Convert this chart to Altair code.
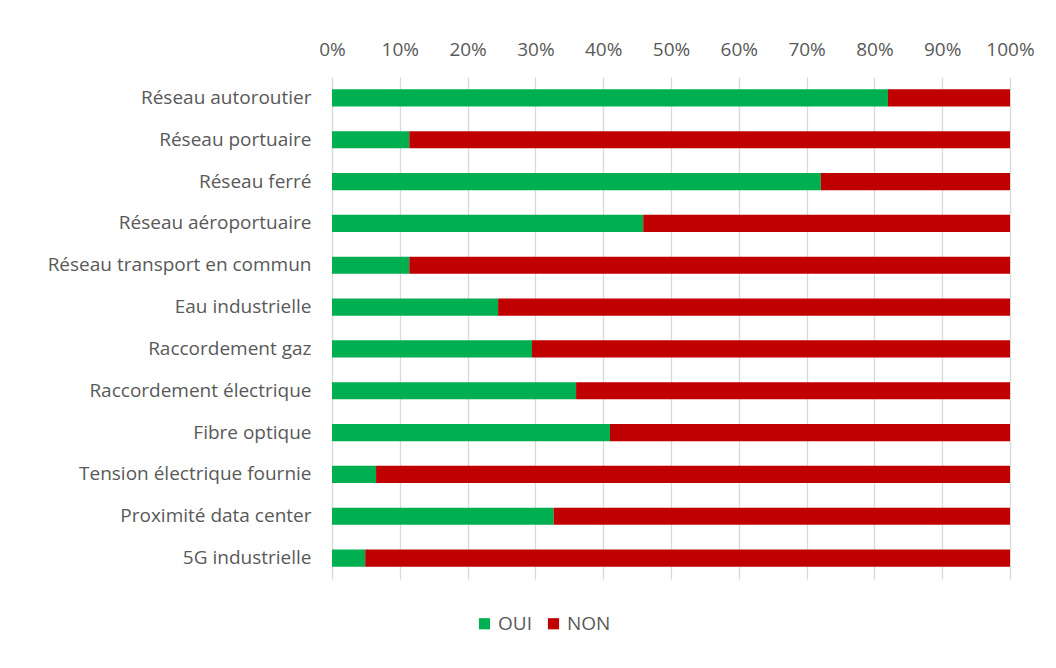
import altair as alt
import pandas as pd

categories = [
    "Réseau autoroutier", "Réseau portuaire", "Réseau ferré", "Réseau aéroportuaire",
    "Réseau transport en commun", "Eau industrielle", "Raccordement gaz",
    "Raccordement électrique", "Fibre optique", "Tension électrique fournie",
    "Proximité data center", "5G industrielle",
]
oui = [0.820, 0.114, 0.721, 0.459, 0.114, 0.245, 0.295, 0.360, 0.410, 0.065, 0.327, 0.049]
non = [0.180, 0.886, 0.279, 0.541, 0.886, 0.755, 0.705, 0.640, 0.590, 0.935, 0.673, 0.951]
series = ["OUI", "NON"]
colors = ["#00B050", "#C00000"]
x_ticks = [0, 0.1, 0.2, 0.3, 0.4, 0.5, 0.6, 0.7, 0.8, 0.9, 1.0]

rows = []
for c, o, n in zip(categories, oui, non):
    rows.append({"cat": c, "serie": "OUI", "val": o, "ord": 0})
    rows.append({"cat": c, "serie": "NON", "val": n, "ord": 1})
df = pd.DataFrame(rows)

FONT = "Open Sans"
GREY = "#595959"
FS = 19

chart = alt.Chart(df).mark_bar().encode(
    y=alt.Y("cat:N", sort=categories, title=None,
            scale=alt.Scale(paddingInner=0.59, paddingOuter=0.295),
            axis=alt.Axis(domain=False, ticks=False, labelFontSize=FS, labelColor=GREY,
                          labelFont=FONT, labelPadding=21, labelLimit=400)),
    x=alt.X("val:Q", stack="zero", title=None,
            scale=alt.Scale(domain=[0, 1], nice=False),
            axis=alt.Axis(orient="top", values=x_ticks, format=".0%", domain=False, ticks=False,
                          grid=True, gridColor="#D9D9D9", gridWidth=1.3, labelFlush=False,
                          labelFontSize=FS, labelColor=GREY, labelFont=FONT, labelPadding=18)),
    color=alt.Color("serie:N", scale=alt.Scale(domain=series, range=colors),
                    legend=alt.Legend(title=None, orient="none", direction="horizontal",
                                      legendX=143, legendY=537, symbolType="square",
                                      symbolSize=125, symbolStrokeWidth=0,
                                      labelFontSize=FS, labelColor=GREY, labelFont=FONT,
                                      columnPadding=12, labelOffset=4)),
    order=alt.Order("ord:Q"),
).properties(
    width=678, height=502,
    background="white",
    autosize=alt.AutoSizeParams(type="none"),
    padding={"left": 332, "top": 77, "right": 46, "bottom": 89},
).configure_view(stroke=None)

chart.save("out.html", embed_options={"renderer": "svg", "actions": False})
